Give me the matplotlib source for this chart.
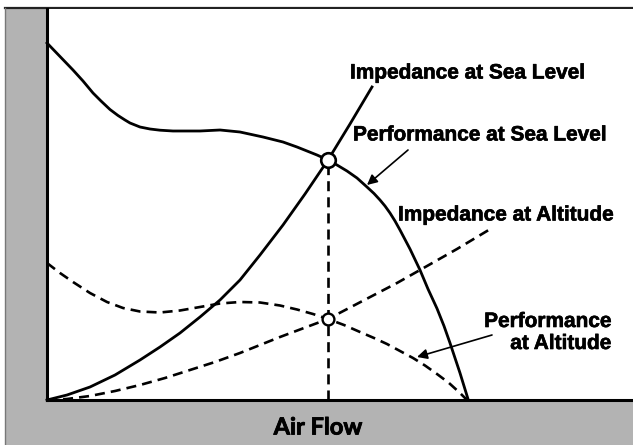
import matplotlib
matplotlib.use("Agg")
import matplotlib.pyplot as plt
import matplotlib.patheffects as pe
from matplotlib.patches import Rectangle
from matplotlib.lines import Line2D

# curves (arbitrary units: flow vs pressure)
perf_sea_x = [0, 13, 26, 36, 46, 54, 63, 71, 78, 83, 93, 103, 113, 126, 153, 173, 193,
              216, 236, 250, 270, 281, 290, 300, 310, 320, 327, 333, 338, 343, 348, 353,
              363, 373, 381, 390, 397, 403, 408, 413, 417, 421]
perf_sea_y = [357, 343.5, 330, 319, 307, 299, 290.5, 284.5, 280, 277, 273, 271, 269.8, 269,
              269, 270, 268, 263, 258, 253, 245, 240, 235, 229, 222, 213, 206.5, 200,
              194, 187, 179, 170, 151, 130, 111, 91.5, 74, 57, 42, 27, 14, 1]

imp_sea_x = [0, 20, 43, 68, 93, 113, 133, 153, 173, 193, 213, 236, 258, 281, 303, 325]
imp_sea_y = [0, 5, 13, 25, 40, 53, 67, 83, 100, 120, 145, 175, 206, 240, 276, 313]

perf_alt_x = [0, 13, 26, 43, 60, 76, 93, 113, 133, 153, 173, 193, 213, 233, 250, 266,
              281, 297, 313, 327, 340, 353, 366, 378, 390, 402, 413, 420]
perf_alt_y = [137, 127, 118, 107, 98, 92, 88.5, 87.5, 89.5, 93, 96.5, 98, 97.5, 94.5,
              90.5, 86, 81, 75, 68, 62, 56, 49, 42, 34.5, 26, 17, 7, 0]

imp_alt_x = [0, 20, 43, 68, 93, 118, 143, 168, 193, 213, 233, 257, 281, 304, 327, 350,
             373, 410, 445]
imp_alt_y = [0, 1, 4, 9, 15, 22, 30, 38, 47, 55, 63, 72, 81, 93, 105, 117, 130, 151, 172]

op_sea = (281, 240)
op_alt = (281, 81)

W, H = 633, 445
fig = plt.figure(figsize=(W / 100, H / 100), dpi=100)
fig.patch.set_facecolor("white")

# grey frame around the plot
fig.patches.append(Rectangle((5 / W, 0), 1 - 5 / W, 1 - 8 / H, transform=fig.transFigure,
                             facecolor="#b3b3b3", edgecolor="none", zorder=-10))
fig.lines.append(Line2D([5 / W, 1], [1 - 8 / H, 1 - 8 / H], transform=fig.transFigure,
                        color="#222222", lw=1.6, zorder=-5))
fig.lines.append(Line2D([5 / W, 5 / W], [0, 1 - 8 / H], transform=fig.transFigure,
                        color="#777777", lw=1.0, zorder=-5))

ax = fig.add_axes([47 / W, 45 / H, 586 / W, 391 / H])
ax.set_xlim(0, 586)
ax.set_ylim(0, 391)
ax.set_facecolor("white")
for s in ["top", "right"]:
    ax.spines[s].set_visible(False)
for s in ["left", "bottom"]:
    ax.spines[s].set_linewidth(2.2)
    ax.spines[s].set_color("black")
ax.set_xticks([])
ax.set_yticks([])

dash = (0, (3.8, 2.3))
ax.plot(perf_sea_x, perf_sea_y, color="black", lw=2.0, solid_joinstyle="round", clip_on=False)
ax.plot(imp_sea_x, imp_sea_y, color="black", lw=2.0, solid_joinstyle="round", clip_on=False)
ax.plot(perf_alt_x, perf_alt_y, color="black", lw=1.9, linestyle=dash, clip_on=False)
ax.plot(imp_alt_x, imp_alt_y, color="black", lw=1.9, linestyle=dash, clip_on=False)
ax.plot([op_sea[0], op_sea[0]], [0, op_sea[1]], color="black", lw=1.9, linestyle=dash)

ax.plot(*op_sea, marker="o", ms=10.5, mfc="white", mec="black", mew=1.9, zorder=5)
ax.plot(*op_alt, marker="o", ms=8.5, mfc="white", mec="black", mew=1.7, zorder=5)

bold = [pe.withStroke(linewidth=0.45, foreground="black")]
lab = dict(fontsize=15, fontweight="bold", family="Liberation Sans", color="black",
           path_effects=bold)
ax.text(303, 327, "Impedance at Sea Level", ha="left", va="center", **lab)
ax.text(306, 265, "Performance at Sea Level", ha="left", va="center", **lab)
ax.text(351, 185, "Impedance at Altitude", ha="left", va="center", **lab)
ax.text(565, 67.5, "Performance\nat Altitude", ha="right", va="center",
        multialignment="right", linespacing=1.2, **lab)

arrow = dict(arrowstyle="-|>", color="black", lw=1.2, mutation_scale=15, shrinkA=0, shrinkB=0)
ax.annotate("", xy=(320, 215), xytext=(361, 250), arrowprops=arrow)
ax.annotate("", xy=(370, 43), xytext=(445, 65), arrowprops=arrow)

ax.text(271, -27, "Air Flow", ha="center", va="center", fontsize=17,
        fontweight="bold", family="Lato", color="black",
        path_effects=[pe.withStroke(linewidth=0.6, foreground="black")])

fig.savefig("out.png", dpi=100)
